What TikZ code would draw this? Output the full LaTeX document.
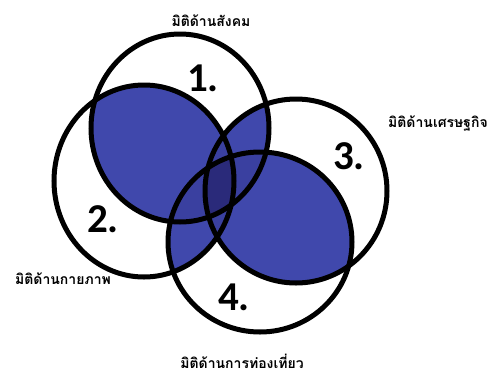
\documentclass[tikz,border=0pt]{standalone}
\usepackage{fontspec}
\setmainfont{Carlito}
\newfontfamily\thaifont[Script=Thai]{Loma}
\usepackage{tikz}
\definecolor{VennBlue}{RGB}{64, 72, 172}
\definecolor{VennMid}{RGB}{58, 64, 160}
\definecolor{VennDark}{RGB}{42, 42, 122}

% the four dimensions
\def\circA{(180,128) ellipse [x radius=89, y radius=94]}
\def\circB{(144,181) ellipse [x radius=90, y radius=96]}
\def\circC{(296,191) ellipse [x radius=91, y radius=92]}
\def\circD{(260,242) ellipse [x radius=92, y radius=90]}

\tikzset{
  ring/.style={line width=5pt, draw=black},
  numlabel/.style={font=\fontsize{41}{41}\selectfont\bfseries},
  dimlabel/.style={font=\thaifont\fontsize{14}{16}\selectfont\bfseries}
}

\begin{document}
\begin{tikzpicture}[x=1pt, y=-1pt]
    \useasboundingbox (0,0) rectangle (496,373);

    % Pairwise overlaps
    \foreach \p/\q in {\circA/\circB, \circA/\circC, \circA/\circD, \circB/\circC, \circB/\circD, \circC/\circD} {
      \begin{scope}
        \clip \p;
        \fill[VennBlue] \q;
      \end{scope}
    }

    % Triple overlaps
    \foreach \p/\q/\r in {\circA/\circB/\circC, \circA/\circB/\circD, \circA/\circC/\circD, \circB/\circC/\circD} {
      \begin{scope}
        \clip \p;
        \clip \q;
        \fill[VennMid] \r;
      \end{scope}
    }

    % Centre
    \begin{scope}
      \clip \circA;
      \clip \circB;
      \clip \circC;
      \fill[VennDark] \circD;
    \end{scope}

    % Rings
    \draw[ring] \circA;
    \draw[ring] \circB;
    \draw[ring] \circC;
    \draw[ring] \circD;

    % Numbers
    \node[numlabel] (n1) at (203,78) {1.};
    \node[numlabel] (n2) at (103,219) {2.};
    \node[numlabel] (n3) at (349,156) {3.};
    \node[numlabel] (n4) at (234,297) {4.};

    % Names
    \node[dimlabel] (social) at (211,21) {มิติด้านสังคม};
    \node[dimlabel] (economic) at (438,123) {มิติด้านเศรษฐกิจ};
    \node[dimlabel] (physical) at (63,279) {มิติด้านกายภาพ};
    \node[dimlabel] (tourism) at (242,361) {มิติด้านการท่องเที่ยว};
  \end{tikzpicture}
\end{document}
